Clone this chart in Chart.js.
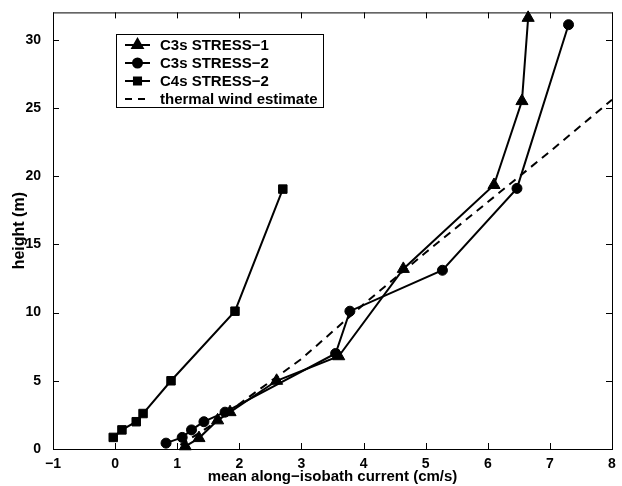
<!DOCTYPE html>
<html>
<head>
<meta charset="utf-8">
<script src="https://cdn.jsdelivr.net/npm/chart.js@4"></script>
<style>
html,body{margin:0;padding:0;background:#fff;}
canvas{display:block;}
</style>
</head>
<body>
<canvas id="c" width="622" height="486"></canvas>
<script>
// ---- data ----
const seriesNames = ["C3s STRESS\u22121", "C3s STRESS\u22122", "C4s STRESS\u22122", "thermal wind estimate"];
const c3s1Current = [1.13, 1.35, 1.65, 1.85, 2.6, 3.6, 4.64, 6.1, 6.55, 6.65];
const c3s1Height  = [0.2, 0.8, 2.1, 2.7, 5.0, 6.8, 13.2, 19.35, 25.5, 31.6];
const c3s2Current = [0.82, 1.08, 1.23, 1.43, 1.77, 3.55, 3.78, 5.27, 6.47, 7.3];
const c3s2Height  = [0.43, 0.85, 1.4, 2.0, 2.7, 7.0, 10.1, 13.1, 19.1, 31.1];
const c4s2Current = [-0.03, 0.11, 0.34, 0.45, 0.9, 1.93, 2.7];
const c4s2Height  = [0.85, 1.4, 2.0, 2.6, 5.0, 10.1, 19.05];
const thermalCurrent = [1.05, 1.5, 2.0, 3.0, 4.0, 5.0, 6.0, 7.0, 8.0];
const thermalHeight  = [0.3, 1.6, 3.3, 6.6, 10.6, 14.4, 18.1, 21.8, 25.6];
const xTicks = [-1, 0, 1, 2, 3, 4, 5, 6, 7, 8];
const yTicks = [0, 5, 10, 15, 20, 25, 30];

const pts = (xs, ys) => xs.map((x, i) => ({x: x, y: ys[i]}));
const FONT = "'Liberation Sans', Arial, Helvetica, sans-serif";

const frameTicks = {
  id: 'frameTicks',
  afterDraw(chart) {
    const {ctx, chartArea: a, scales} = chart;
    ctx.save();
    ctx.strokeStyle = '#000';
    ctx.lineWidth = 1;
    ctx.strokeRect(a.left + 0.5, a.top + 0.5, a.right - a.left, a.bottom - a.top);
    const L = 6;
    ctx.beginPath();
    xTicks.forEach(v => {
      const px = Math.round(scales.x.getPixelForValue(v)) + 0.5;
      ctx.moveTo(px, a.bottom); ctx.lineTo(px, a.bottom - L);
      ctx.moveTo(px, a.top); ctx.lineTo(px, a.top + L);
    });
    yTicks.forEach(v => {
      const py = Math.round(scales.y.getPixelForValue(v)) + 0.5;
      ctx.moveTo(a.left, py); ctx.lineTo(a.left + L, py);
      ctx.moveTo(a.right, py); ctx.lineTo(a.right - L, py);
    });
    ctx.stroke();

    // legend
    const bx = 116, by = 34, bw = 207, bh = 73;
    ctx.fillStyle = '#fff';
    ctx.fillRect(bx, by, bw, bh);
    ctx.strokeRect(bx + 0.5, by + 0.5, bw, bh);
    const styles = ['triangle', 'circle', 'rect', null];
    const radii = [6, 4.5, 5, 0];
    ctx.font = "bold 15px " + FONT;
    ctx.textBaseline = 'middle';
    seriesNames.forEach((name, i) => {
      const y = 45 + i * 18;
      ctx.strokeStyle = '#000';
      ctx.fillStyle = '#000';
      ctx.lineWidth = 2;
      ctx.setLineDash(i === 3 ? [7, 6] : []);
      ctx.beginPath();
      ctx.moveTo(125, y); ctx.lineTo(150, y);
      ctx.stroke();
      ctx.setLineDash([]);
      if (styles[i]) {
        Chart.helpers.drawPoint(ctx, {pointStyle: styles[i], radius: radii[i], borderWidth: 1, rotation: 0}, 137.5, y);
        ctx.fill();
      }
      ctx.fillStyle = '#000';
      ctx.fillText(name, 160, y + 1);
    });
    ctx.restore();
  }
};

const lineBase = {borderColor: '#000', backgroundColor: '#000', borderWidth: 2, showLine: true, tension: 0, pointBorderColor: '#000', pointBackgroundColor: '#000', pointBorderWidth: 1};

new Chart(document.getElementById('c'), {
  type: 'scatter',
  data: {
    datasets: [
      Object.assign({}, lineBase, {label: seriesNames[0], data: pts(c3s1Current, c3s1Height), pointStyle: 'triangle', pointRadius: 7}),
      Object.assign({}, lineBase, {label: seriesNames[1], data: pts(c3s2Current, c3s2Height), pointStyle: 'circle', pointRadius: 5}),
      Object.assign({}, lineBase, {label: seriesNames[2], data: pts(c4s2Current, c4s2Height), pointStyle: 'rect', pointRadius: 6}),
      Object.assign({}, lineBase, {label: seriesNames[3], data: pts(thermalCurrent, thermalHeight), pointRadius: 0, borderDash: [8, 6]})
    ]
  },
  options: {
    responsive: false,
    animation: false,
    clip: false,
    layout: {padding: {top: 7, right: 10, left: 0, bottom: 0}},
    plugins: {legend: {display: false}, tooltip: {enabled: false}},
    scales: {
      x: {
        type: 'linear', min: -1, max: 8,
        afterFit(s) { s.height = 37; },
        afterBuildTicks(s) { s.ticks = xTicks.map(v => ({value: v})); },
        grid: {display: false},
        border: {display: false},
        ticks: {
          color: '#000', padding: -1,
          font: {family: FONT, size: 14, weight: 'bold'},
          callback: v => v < 0 ? '\u2212' + Math.abs(v) : String(v)
        },
        title: {display: true, text: 'mean along\u2212isobath current (cm/s)', color: '#000', padding: {top: 0, bottom: 0},
                font: {family: FONT, size: 15, weight: 'bold'}}
      },
      y: {
        type: 'linear', min: 0, max: 32,
        afterFit(s) { s.width = 53; },
        afterBuildTicks(s) { s.ticks = yTicks.map(v => ({value: v})); },
        grid: {display: false},
        border: {display: false},
        ticks: {
          color: '#000', padding: 4,
          font: {family: FONT, size: 14, weight: 'bold'}
        },
        title: {display: true, text: 'height (m)', color: '#000', padding: {top: 10, bottom: 0},
                font: {family: FONT, size: 16, weight: 'bold'}}
      }
    }
  },
  plugins: [frameTicks]
});
</script>
</body>
</html>
